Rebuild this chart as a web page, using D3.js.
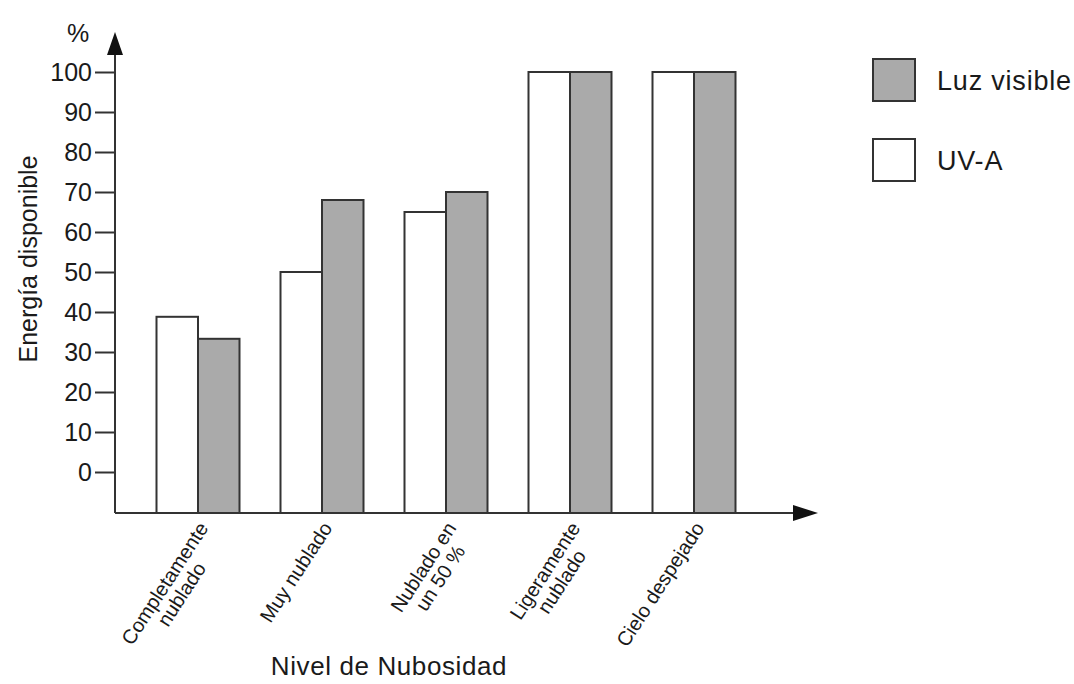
<!DOCTYPE html>
<html>
<head>
<meta charset="utf-8">
<script src="https://cdn.jsdelivr.net/npm/d3@7"></script>
<style>
  body { margin: 0; background: #fff; }
  svg { font-family: "Liberation Sans", Arial, sans-serif; }
</style>
</head>
<body>
<svg width="1074" height="684"></svg>
<script>
var categories = [
  ['Completamente', 'nublado'],
  ['Muy nublado'],
  ['Nublado en', 'un 50 %'],
  ['Ligeramente', 'nublado'],
  ['Cielo despejado']
];
var series = ['UV-A', 'Luz visible'];
var uva = [38.8, 50, 65, 100, 100];
var luzVisible = [33.3, 68, 70, 100, 100];
var yTicks = [0, 10, 20, 30, 40, 50, 60, 70, 80, 90, 100];
var legendItems = ['Luz visible', 'UV-A'];

var ink = '#333',
  txt = '#1a1a1a',
  grey = '#aaaaaa';

var svg = d3.select('svg');

var x = d3.scaleBand()
  .domain(d3.range(categories.length))
  .range([136, 756]);

var xs = d3.scaleBand()
  .domain(series)
  .range([20.5, 103.5]);

var y = d3.scaleLinear()
  .domain([0, 100])
  .range([472, 72]);

var fill = d3.scaleOrdinal()
  .domain(series)
  .range(['#fff', grey]);

var axisX = 115, baseY = 513;

// bars
var groups = svg.append('g').selectAll('g')
  .data(categories.map(function(c, i) {
    return { i: i, vals: [uva[i], luzVisible[i]] };
  }))
  .enter().append('g')
  .attr('transform', function(d) { return 'translate(' + x(d.i) + ',0)'; });

groups.selectAll('rect')
  .data(function(d) { return d.vals.map(function(v, k) { return { s: series[k], v: v }; }); })
  .enter().append('rect')
  .attr('x', function(d) { return xs(d.s); })
  .attr('width', xs.bandwidth())
  .attr('y', function(d) { return y(d.v); })
  .attr('height', function(d) { return baseY - y(d.v); })
  .attr('fill', function(d) { return fill(d.s); })
  .attr('stroke', ink)
  .attr('stroke-width', 2);

// y axis
var yAxis = svg.append('g')
  .attr('transform', 'translate(' + axisX + ',0)')
  .call(d3.axisLeft(y).tickValues(yTicks).tickSize(20).tickPadding(3));
yAxis.select('.domain').remove();
yAxis.selectAll('line').attr('stroke', ink).attr('stroke-width', 2);
yAxis.selectAll('text')
  .attr('font-size', 25)
  .attr('fill', txt)
  .attr('font-family', '"Liberation Sans", Arial, sans-serif');

// axis lines with arrows
svg.append('line')
  .attr('x1', axisX).attr('x2', axisX)
  .attr('y1', baseY).attr('y2', 50)
  .attr('stroke', ink).attr('stroke-width', 2);
svg.append('path')
  .attr('d', d3.line()([[axisX - 8, 55], [axisX, 32], [axisX + 8, 55]]) + 'Z')
  .attr('fill', '#111');
svg.append('line')
  .attr('x1', axisX).attr('x2', 798)
  .attr('y1', baseY).attr('y2', baseY)
  .attr('stroke', ink).attr('stroke-width', 2);
svg.append('path')
  .attr('d', d3.line()([[793, baseY - 8], [818, baseY], [793, baseY + 8]]) + 'Z')
  .attr('fill', '#111');

// category labels
var catG = svg.append('g').selectAll('g')
  .data(categories)
  .enter().append('g')
  .attr('transform', function(d, i) {
    return 'translate(' + (x(i) + x.bandwidth() / 2 + 11) + ',528) rotate(-57)';
  });

catG.each(function(lines) {
  var g = d3.select(this);
  var t = g.append('text')
    .attr('font-size', 20)
    .attr('fill', txt)
    .attr('text-anchor', 'middle');
  t.selectAll('tspan')
    .data(lines)
    .enter().append('tspan')
    .attr('x', 0)
    .attr('dy', function(d, k) { return k === 0 ? 0 : '1.0em'; })
    .text(function(d) { return d; });
  var w = d3.max(t.selectAll('tspan').nodes(), function(n) { return n.getComputedTextLength(); });
  t.selectAll('tspan').attr('x', -w / 2);
});

// axis titles
svg.append('text')
  .attr('transform', 'translate(37,259) rotate(-90)')
  .attr('text-anchor', 'middle')
  .attr('font-size', 25)
  .attr('fill', txt)
  .text('Energía disponible');

svg.append('text')
  .attr('x', 78).attr('y', 42)
  .attr('text-anchor', 'middle')
  .attr('font-size', 25)
  .attr('fill', txt)
  .text('%');

svg.append('text')
  .attr('x', 389).attr('y', 675)
  .attr('text-anchor', 'middle')
  .attr('font-size', 26)
  .attr('letter-spacing', 0.6)
  .attr('fill', txt)
  .text('Nivel de Nubosidad');

// legend
var legend = svg.append('g').selectAll('g')
  .data(legendItems)
  .enter().append('g')
  .attr('transform', function(d, i) { return 'translate(873,' + (59 + i * 80) + ')'; });

legend.append('rect')
  .attr('width', 42).attr('height', 42)
  .attr('fill', function(d) { return d === 'UV-A' ? '#fff' : grey; })
  .attr('stroke', ink).attr('stroke-width', 2);

legend.append('text')
  .attr('x', 64).attr('y', 31)
  .attr('font-size', 27)
  .attr('letter-spacing', 0.8)
  .attr('fill', txt)
  .text(function(d) { return d; });
</script>
</body>
</html>
